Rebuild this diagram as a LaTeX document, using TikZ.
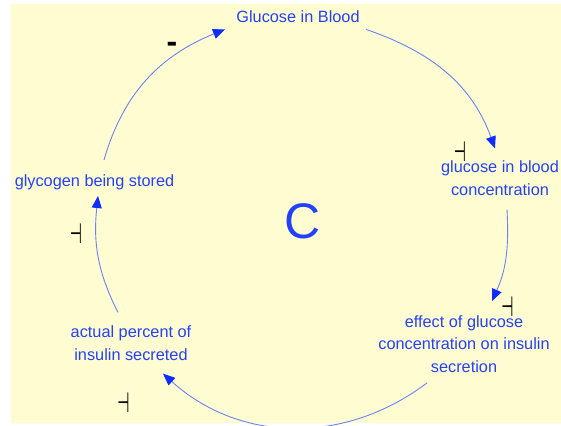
\documentclass[tikz,border=0pt]{standalone}
\usepackage{fontspec}
\setmainfont{Liberation Sans}
\newfontfamily\symfont{DejaVu Sans}
\usetikzlibrary{arrows.meta}

\definecolor{bgyellow}{RGB}{255,252,210}
\definecolor{varblue}{RGB}{35,65,250}
\definecolor{linkblue}{RGB}{105,130,250}
\definecolor{tipblue}{RGB}{15,45,255}

\begin{document}
\begin{tikzpicture}[
    x=0.5pt, y=-0.5pt,
    var/.style={text=varblue, align=center, font=\fontsize{8.15}{11.25}\selectfont, inner sep=3pt},
    link/.style={draw=linkblue, line width=0.45pt, -{Triangle[length=6pt,width=5pt,color=tipblue]}},
    polar/.style={font=\symfont\fontsize{14}{17}\selectfont, inner sep=0pt, xscale=0.5, transform shape}
]

% Canvas
\useasboundingbox (0,0) rectangle (561,425);
\fill[bgyellow] (11,4) rectangle (561,423);

% Loop variables
\node[var] (gib) at (298,17) {Glucose in Blood};
\node[var] (gbc) at (500,178) {glucose in blood\\concentration};
\node[var] (eff) at (464,344) {effect of glucose\\concentration on insulin\\secretion};
\node[var] (act) at (131,343) {actual percent of\\insulin secreted};
\node[var] (gly) at (94.5,182) {glycogen being stored};

% Loop name
\node[text=varblue, font=\fontsize{25}{30}\selectfont, inner sep=0pt] (loop) at (303,221.5) {C};

% Causal links
\draw[link] (gib.south east) to[out=-19,in=110] ([xshift=-2.5pt,yshift=3pt]gbc.north);
\draw[link] ([xshift=3.5pt,yshift=-4pt]gbc.south) to[out=-87,in=66] ([xshift=14pt,yshift=4pt]eff.north);
\draw[link] ([xshift=-18.5pt,yshift=-2pt]eff.south) to[out=-143,in=-42] ([xshift=16pt,yshift=-3.5pt]act.south);
\draw[link] ([xshift=-6.5pt,yshift=3.5pt]act.north) to[out=117,in=-96] ([xshift=1.75pt]gly.south);
\draw[link] ([xshift=4.75pt,yshift=4pt]gly.north) to[out=74,in=-158] ([xshift=-2.5pt]gib.south west);

% Polarities
\node[font=\bfseries\fontsize{16}{18}\selectfont, inner sep=0pt] (minus) at (172,47) {-};
\node[polar] (pol1) at (460,152) {⊣};
\node[polar] (pol2) at (507.5,307) {⊣};
\node[polar] (pol3) at (76,234) {⊣};
\node[polar] (pol4) at (123.5,403) {⊣};

\end{tikzpicture}
\end{document}
